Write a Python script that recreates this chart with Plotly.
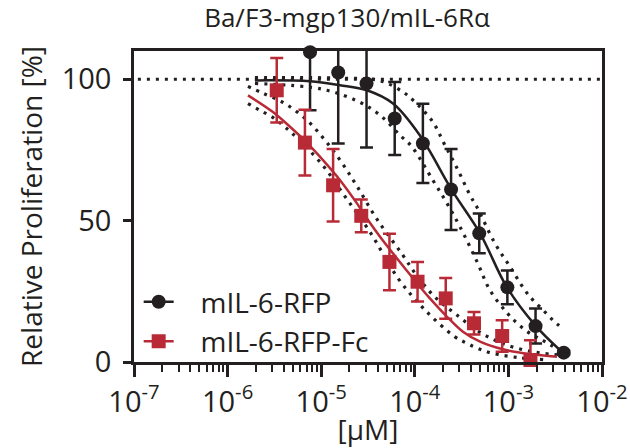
import plotly.graph_objects as go

# ---------------- data ----------------
TITLE = "Ba/F3-mgp130/mIL-6Rα"
X_TITLE = "[μM]"
Y_TITLE = "Relative Proliferation [%]"
NAME_RFP = "mIL-6-RFP"
NAME_FC = "mIL-6-RFP-Fc"

# measured points (concentration in µM, mean %, SD %)
rfp_conc = [7.6e-6, 1.52e-5, 3.05e-5, 6.1e-5, 1.22e-4, 2.44e-4, 4.88e-4, 9.75e-4, 1.95e-3, 3.9e-3]
rfp_mean = [109.6, 102.4, 98.5, 86.1, 77.3, 61.0, 45.5, 26.4, 12.7, 3.3]
rfp_sd = [20.6, 25.1, 22.6, 12.9, 14.0, 14.3, 7.0, 6.0, 6.2, 0.8]

fc_conc = [3.35e-6, 6.7e-6, 1.34e-5, 2.68e-5, 5.36e-5, 1.07e-4, 2.14e-4, 4.29e-4, 8.58e-4, 1.72e-3]
fc_mean = [96.1, 77.6, 62.5, 51.7, 35.4, 28.4, 22.5, 13.7, 9.2, 0.7]
fc_sd = [11.4, 11.6, 12.8, 5.8, 10.0, 7.0, 7.2, 4.0, 5.6, 7.0]

# fitted curve of mIL-6-RFP
rfp_fit_x = [1.96e-6, 7.59e-6, 1.59e-5, 3.08e-5, 5.85e-5, 1.14e-4, 2.49e-4, 4.98e-4, 9.66e-4, 1.97e-3, 3.56e-3]
rfp_fit_y = [99.6, 99.3, 97.9, 96.1, 91.4, 80.0, 60.8, 45.5, 26.4, 12.7, 4.2]
# its confidence band
rfp_hi_x = [1.96e-6, 1.59e-5, 4.25e-5, 7.48e-5, 9.57e-5, 1.53e-4, 2.10e-4, 2.90e-4, 3.89e-4,
            4.62e-4, 7.20e-4, 1.04e-3, 1.50e-3, 1.83e-3, 2.34e-3, 2.99e-3, 3.83e-3]
rfp_hi_y = [100.6, 100.4, 99.5, 95.5, 92.6, 85.3, 76.7, 67.8, 59.0, 54.7, 41.9, 33.7, 25.4, 21.9, 18.4, 14.8, 11.7]
rfp_lo_x = [1.96e-6, 1.02e-5, 2.47e-5, 4.25e-5, 6.95e-5, 9.33e-5, 1.56e-4, 2.21e-4, 3.04e-4,
            4.62e-4, 6.35e-4, 9.66e-4, 1.27e-3, 1.70e-3, 2.29e-3, 2.99e-3]
rfp_lo_y = [98.5, 96.5, 92.2, 87.3, 80.2, 76.1, 64.3, 56.1, 47.8, 35.5, 25.4, 17.4, 13.4, 10.1, 7.8, 5.5]

# fitted curve of mIL-6-RFP-Fc
fc_fit_x = [1.65e-6, 3.05e-6, 4.64e-6, 7.05e-6, 1.045e-5, 1.59e-5, 2.41e-5, 3.16e-5, 4.25e-5,
            6.46e-5, 9.57e-5, 1.45e-4, 2.21e-4, 3.27e-4, 4.98e-4, 8.75e-4, 1.70e-3, 3.30e-3]
fc_fit_y = [94.3, 88.4, 83.2, 77.5, 71.4, 64.3, 56.1, 50.2, 44.3, 36.6, 29.6, 22.5, 16.0, 10.7, 7.2, 4.5, 2.8, 1.9]
fc_hi_x = [1.65e-6, 2.34e-6, 4.10e-6, 7.05e-6, 1.10e-5, 1.67e-5, 2.41e-5, 3.94e-5, 7.30e-5,
           1.08e-4, 1.64e-4, 2.82e-4, 4.98e-4, 8.75e-4, 1.70e-3, 3.30e-3]
fc_hi_y = [97.5, 95.2, 91.4, 85.5, 78.4, 70.4, 62.2, 50.5, 38.2, 30.0, 23.0, 16.6, 10.5, 6.5, 3.8, 2.5]
fc_lo_x = [1.65e-6, 2.22e-6, 2.98e-6, 3.91e-6, 5.00e-6, 1.02e-5, 1.80e-5, 3.32e-5, 6.62e-5,
           1.285e-4, 2.69e-4, 3.61e-4, 4.73e-4, 6.68e-4, 1.33e-3, 2.46e-3]
fc_lo_y = [91.4, 89.0, 86.7, 83.7, 80.6, 69.9, 58.5, 46.0, 29.6, 18.4, 8.9, 6.6, 4.8, 3.1, 1.5, 0.8]

# 100 % reference line
ref_x = [1.1e-7, 1e-2]
ref_y = [100, 100]

# axis ticks
x_tickvals = [1e-7, 1e-6, 1e-5, 1e-4, 1e-3, 1e-2]
x_ticktext = ["10<sup>-7</sup>", "10<sup>-6</sup>", "10<sup>-5</sup>", "10<sup>-4</sup>",
              "10<sup>-3</sup>", "10<sup>-2</sup>"]
x_minor = [m * 10.0 ** e for e in range(-7, -2) for m in range(2, 10)]
y_tickvals = [0, 50, 100]
y_range = [0, 110]

# ---------------- style ----------------
BLACK = "#231F20"
RED = "#B82B36"
FONT = "Open Sans"
DOT = "3px,6px"
GAP = "\u00a0\u00a0\u00a0"

fig = go.Figure()

fig.add_trace(go.Scatter(x=ref_x, y=ref_y, mode="lines", showlegend=False, hoverinfo="skip",
                         line=dict(color=BLACK, width=3, dash=DOT)))

for bx, by in [(rfp_hi_x, rfp_hi_y), (rfp_lo_x, rfp_lo_y), (fc_hi_x, fc_hi_y), (fc_lo_x, fc_lo_y)]:
    fig.add_trace(go.Scatter(x=bx, y=by, mode="lines", showlegend=False, hoverinfo="skip",
                             line=dict(color=BLACK, width=3.2, dash=DOT, shape="spline")))

fig.add_trace(go.Scatter(x=rfp_fit_x, y=rfp_fit_y, mode="lines", showlegend=False,
                         line=dict(color=BLACK, width=2.5, shape="spline")))
fig.add_trace(go.Scatter(x=fc_fit_x, y=fc_fit_y, mode="lines", showlegend=False,
                         line=dict(color=RED, width=2.5, shape="spline")))

# error bars (clipped to the frame)
for cx, cy, sd, col in [(rfp_conc, rfp_mean, rfp_sd, BLACK), (fc_conc, fc_mean, fc_sd, RED)]:
    fig.add_trace(go.Scatter(x=cx, y=cy, mode="markers", showlegend=False, cliponaxis=True,
                             marker=dict(size=2, opacity=0, color=col),
                             error_y=dict(type="data", array=sd, visible=True, color=col,
                                          thickness=2.5, width=6.5)))

# markers (not clipped)
fig.add_trace(go.Scatter(x=rfp_conc, y=rfp_mean, mode="markers", showlegend=False, cliponaxis=False,
                         marker=dict(symbol="circle", size=14, color=BLACK)))
fig.add_trace(go.Scatter(x=fc_conc, y=fc_mean, mode="markers", showlegend=False, cliponaxis=False,
                         marker=dict(symbol="square", size=14, color=RED)))

# legend entries
fig.add_trace(go.Scatter(x=[None], y=[None], mode="lines+markers", name=GAP + NAME_RFP,
                         line=dict(color=BLACK, width=2.5), marker=dict(symbol="circle", size=14, color=BLACK)))
fig.add_trace(go.Scatter(x=[None], y=[None], mode="lines+markers", name=GAP + NAME_FC,
                         line=dict(color=RED, width=2.5), marker=dict(symbol="square", size=14, color=RED)))

fig.update_layout(
    width=630, height=448,
    margin=dict(l=134, r=28, t=51, b=86, autoexpand=False),
    paper_bgcolor="white", plot_bgcolor="white",
    font=dict(family=FONT, color=BLACK, size=28),
    title=dict(text=TITLE, x=347 / 630, xanchor="center", y=1 - 18 / 448, yanchor="middle",
               font=dict(size=26, color=BLACK), automargin=False),
    showlegend=True,
    legend=dict(x=0.01, xanchor="left", y=0.13, yanchor="middle", bgcolor="rgba(0,0,0,0)",
                font=dict(size=28), itemwidth=30, tracegroupgap=0),
)

fig.update_xaxes(
    type="log", range=[-7, -2], showgrid=False, zeroline=False, automargin=False,
    showline=True, linecolor=BLACK, linewidth=2.5, mirror=True,
    ticks="outside", ticklen=12, tickwidth=2.5, tickcolor=BLACK,
    tickvals=x_tickvals, ticktext=x_ticktext, tickfont=dict(size=29),
    minor=dict(tickvals=x_minor, ticks="outside", ticklen=7, tickwidth=2, tickcolor=BLACK, showgrid=False),
    title=dict(text=X_TITLE, font=dict(size=28), standoff=0),
)
fig.update_yaxes(
    range=y_range, showgrid=False, zeroline=False, automargin=False,
    showline=True, linecolor=BLACK, linewidth=2.5, mirror=True,
    ticks="outside", ticklen=8, tickwidth=2.5, tickcolor=BLACK,
    tickvals=y_tickvals, tickfont=dict(size=29), ticklabelstandoff=6,
    title=dict(text=Y_TITLE, font=dict(size=28), standoff=11),
)

fig.write_html("out.html", config={"displayModeBar": False},
               post_script="document.body.style.margin='0';document.body.style.overflow='hidden';")
